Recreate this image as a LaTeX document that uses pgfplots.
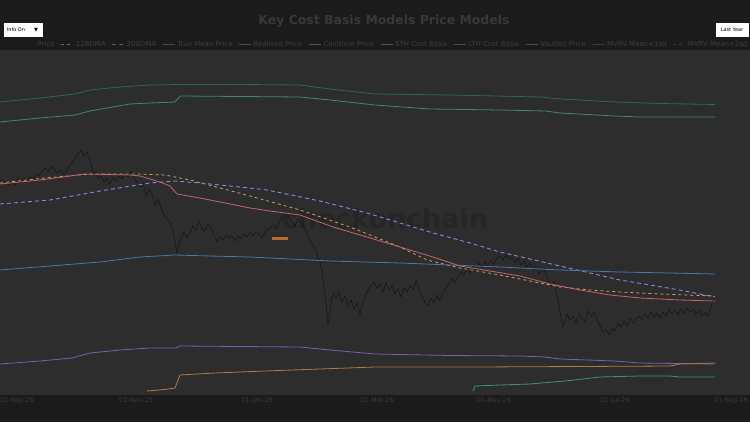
\documentclass[border=0pt]{standalone}
\usepackage{pgfplots}
\pgfplotsset{compat=1.18}
\usepackage{fontspec}
\setmainfont{DejaVu Sans}

\definecolor{outerbg}{HTML}{1B1B1B}
\definecolor{plotbg}{HTML}{2D2D2D}
\definecolor{titlec}{HTML}{383838}
\definecolor{legtxt}{HTML}{3E3E3E}
\definecolor{ticktxt}{HTML}{3C3C3C}
\definecolor{wmark}{HTML}{252525}
\definecolor{pricec}{HTML}{141414}
\definecolor{dma128}{HTML}{C8A060}
\definecolor{dma200}{HTML}{8A85E6}
\definecolor{truemean}{HTML}{4A76AA}
\definecolor{realised}{HTML}{7262B4}
\definecolor{cointime}{HTML}{B07A40}
\definecolor{sthcb}{HTML}{C46472}
\definecolor{lthcb}{HTML}{3C9474}
\definecolor{vaulted}{HTML}{3D8A68}
\definecolor{mvrvone}{HTML}{2E6A4C}
\definecolor{mvrvtwo}{HTML}{2A5E44}

\begin{document}
\begin{tikzpicture}[x=1bp,y=1bp]
\useasboundingbox (0,0) rectangle (750,422);
\fill[outerbg] (0,0) rectangle (750,422);

% title and buttons
\node[text=titlec, font=\bfseries\fontsize{12.5}{14}\selectfont] at (384,401) {Key Cost Basis Models Price Models};
\fill[white] (4,385) rectangle (43,399);
\node[font=\fontsize{5}{6}\selectfont, text=black] at (16,392) {Info On};
\node[font=\fontsize{5}{6}\selectfont, text=black] at (36,392) {▼};
\fill[white] (716,385) rectangle (749,399);
\node[font=\fontsize{5}{6}\selectfont, text=black] at (732,392) {Last Year};

% y values are screen heights, negated (top of plot = -50)
\begin{axis}[
    at={(0,27)}, anchor=south west,
    width=750bp, height=345bp, scale only axis,
    xmin=0, xmax=750, ymin=-395, ymax=-50,
    axis background/.style={fill=plotbg},
    axis line style={draw=none},
    ytick=\empty,
    xtick={17,136,257,377,494,615,731},
    xticklabels={01-Sep-25,01-Nov-25,01-Jan-26,01-Mar-26,01-May-26,01-Jul-26,01-Sep-26},
    major tick length=0pt,
    xticklabel style={font=\fontsize{6.5}{7}\selectfont, text=ticktxt, inner sep=2bp},
    clip=true,
    legend columns=-1,
    legend image code/.code={\draw[#1, opacity=0.55] (0bp,0bp) -- (12bp,0bp);},
    legend style={at={(axis cs:22,-50)}, anchor=south west, yshift=-1bp,
        draw=none, fill=none, inner sep=1bp,
        font=\fontsize{7}{8}\selectfont, text=legtxt,
        /tikz/every even column/.append style={column sep=4.4bp}},
]

\node[text=wmark, font=\bfseries\fontsize{27}{30}\selectfont] at (axis cs:385,-218) {checkonchain};
\fill[cointime!85!red] (axis cs:272,-237) rectangle (axis cs:288,-240);

% Price
\addplot[color=pricec, line width=0.5bp] coordinates {
(0,-180) (3,-184) (6,-181) (9,-186) (12,-182) (15,-185) (18,-179) (21,-182) (24,-178) (27,-181)
(30,-177) (33,-179) (36,-174) (39,-176) (42,-171) (45,-168) (48,-172) (51,-166) (54,-169) (57,-173)
(60,-170) (63,-174) (66,-171) (69,-167) (72,-163) (75,-158) (78,-154) (81,-150) (84,-156) (87,-152)
(90,-160) (92,-168) (94,-175) (96,-172) (98,-179) (101,-176) (104,-182) (107,-178) (110,-184) (113,-177)
(116,-181) (119,-176) (122,-179) (125,-174) (128,-177) (131,-171) (134,-178) (137,-182) (140,-187) (143,-183)
(146,-196) (149,-189) (152,-194) (155,-206) (158,-199) (161,-208) (164,-214) (167,-219) (170,-222) (173,-232)
(175,-242) (177,-253) (179,-245) (181,-238) (184,-232) (187,-238) (190,-233) (193,-226) (196,-230) (199,-221)
(202,-228) (205,-231) (208,-224) (211,-228) (214,-236) (217,-241) (220,-237) (223,-240) (226,-235) (229,-238)
(232,-236) (235,-241) (238,-236) (241,-239) (244,-234) (247,-237) (250,-232) (253,-236) (256,-231) (259,-235)
(262,-238) (265,-232) (268,-229) (271,-227) (274,-225) (277,-229) (280,-221) (283,-215) (286,-213) (289,-218)
(292,-222) (295,-226) (298,-219) (301,-223) (304,-228) (307,-232) (310,-240) (313,-245) (316,-250) (318,-258)
(320,-262) (322,-272) (324,-288) (326,-302) (328,-324) (330,-310) (332,-298) (334,-293) (336,-298) (339,-292)
(342,-302) (345,-296) (348,-305) (351,-300) (354,-309) (357,-303) (360,-314) (362,-306) (365,-296) (368,-290)
(371,-286) (374,-282) (377,-288) (380,-284) (383,-292) (386,-283) (389,-290) (392,-286) (395,-294) (398,-289)
(401,-297) (404,-288) (407,-292) (410,-285) (413,-290) (416,-281) (419,-288) (422,-296) (425,-302) (428,-306)
(431,-298) (434,-303) (437,-295) (440,-301) (443,-292) (446,-288) (449,-284) (452,-279) (455,-283) (458,-276)
(461,-272) (464,-275) (467,-268) (470,-273) (473,-266) (476,-270) (479,-263) (482,-268) (485,-262) (488,-266)
(491,-261) (494,-264) (497,-258) (500,-256) (503,-260) (506,-254) (509,-259) (512,-257) (515,-262) (518,-258)
(521,-265) (524,-261) (527,-267) (530,-263) (533,-270) (536,-266) (539,-274) (542,-269) (545,-272) (548,-280)
(551,-286) (554,-281) (557,-295) (559,-305) (561,-318) (563,-327) (565,-322) (567,-314) (570,-320) (573,-316)
(576,-323) (579,-313) (582,-318) (585,-322) (588,-311) (591,-316) (594,-312) (597,-320) (600,-326) (603,-333)
(606,-329) (609,-335) (612,-328) (615,-331) (618,-324) (621,-327) (624,-321) (627,-326) (630,-318) (633,-323)
(636,-319) (639,-316) (642,-320) (645,-314) (648,-318) (651,-312) (654,-317) (657,-313) (660,-318) (663,-312)
(666,-316) (669,-309) (672,-314) (675,-310) (678,-315) (681,-309) (684,-313) (687,-308) (690,-312) (693,-309)
(696,-314) (699,-311) (702,-316) (705,-313) (708,-316) (711,-308) (713,-300) (715,-297)
};
\addlegendentry{Price}

% 128DMA
\addplot[color=dma128, line width=0.8bp, dash pattern=on 3bp off 3bp] coordinates {
(0,-183) (45,-178) (90,-174) (140,-174) (165,-175) (190,-180) (220,-188) (250,-196)
(300,-210) (350,-227) (400,-247) (427,-260) (460,-268) (500,-275) (530,-281) (560,-287) (590,-290)
(620,-292) (660,-294) (715,-296)
};
\addlegendentry{128DMA}

% 200DMA
\addplot[color=dma200, line width=0.9bp, dash pattern=on 4bp off 3bp] coordinates {
(0,-204) (50,-200) (100,-191) (150,-183) (175,-181) (200,-183) (250,-188) (267,-190) (320,-201)
(367,-213) (400,-223) (433,-233) (470,-243) (500,-252) (530,-259) (560,-266) (590,-273) (620,-280)
(650,-285) (680,-290) (715,-297)
};
\addlegendentry{200DMA}

% True Mean Price
\addplot[color=truemean, line width=0.8bp] coordinates {
(0,-270) (50,-266) (100,-262) (140,-257) (175,-255) (210,-256) (250,-257) (290,-259) (330,-261)
(400,-263) (450,-265) (500,-267) (560,-270) (620,-272) (670,-273) (715,-274)
};
\addlegendentry{True Mean Price}

% Realised Price
\addplot[color=realised, line width=0.8bp] coordinates {
(0,-364) (40,-361) (72,-358) (90,-353) (120,-350) (150,-348) (175,-348) (178,-347) (180,-346)
(240,-346.5) (300,-347) (330,-350) (375,-354) (450,-355.5) (520,-356) (545,-357) (560,-359)
(615,-361) (640,-363) (715,-364)
};
\addlegendentry{Realised Price}

% Cointime Price
\addplot[color=cointime, line width=0.8bp] coordinates {
(147,-391) (165,-389.5) (175,-388) (180,-375) (215,-373) (265,-371) (320,-369) (375,-367)
(475,-367) (580,-366.5) (670,-366) (680,-364) (715,-363)
};
\addlegendentry{Cointime Price}

% STH Cost Basis
\addplot[color=sthcb, line width=0.8bp] coordinates {
(0,-184) (40,-180) (85,-174) (130,-175) (140,-176) (160,-182) (170,-186) (177,-194) (200,-198)
(250,-208) (270,-211) (300,-215) (333,-227) (367,-237) (400,-247) (433,-257) (460,-266)
(490,-271) (520,-276) (550,-284) (580,-290) (610,-295) (640,-298) (680,-300) (715,-301)
};
\addlegendentry{STH Cost Basis}

% LTH Cost Basis
\addplot[color=lthcb, line width=0.8bp] coordinates {
(473,-391) (475,-386) (500,-385) (530,-384) (565,-381) (600,-377) (640,-376) (670,-376) (680,-377) (715,-377)
};
\addlegendentry{LTH Cost Basis}

% Vaulted Price
\addplot[color=vaulted, line width=0.8bp] coordinates {
(0,-122) (40,-118) (75,-115) (90,-111) (130,-104) (150,-103) (175,-102) (180,-96) (240,-96.5)
(300,-97) (330,-100) (375,-105) (430,-109) (500,-110) (545,-111) (560,-113) (615,-116) (640,-117) (715,-117)
};
\addlegendentry{Vaulted Price}

% MVRV Mean+1sd
\addplot[color=mvrvone, line width=0.8bp] coordinates {
(0,-102) (40,-98) (75,-94) (90,-90) (120,-87) (150,-85) (180,-84.5) (240,-84.5) (300,-85)
(330,-89) (375,-94) (450,-95) (540,-97) (560,-99) (615,-102) (660,-103.5) (715,-104.5)
};
\addlegendentry{MVRV Mean+1sd}

\addlegendimage{color=mvrvtwo, line width=0.8bp, dash pattern=on 3bp off 3bp}
\addlegendentry{MVRV Mean+2sd}

\end{axis}
\end{tikzpicture}
\end{document}
